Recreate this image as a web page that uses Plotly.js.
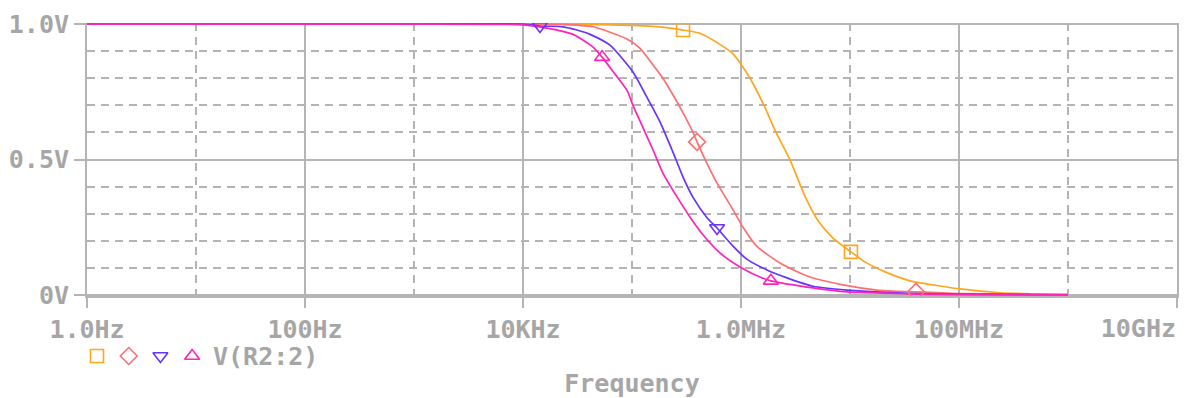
<!DOCTYPE html>
<html>
<head>
<meta charset="utf-8">
<script src="https://cdn.plot.ly/plotly-3.0.1.min.js"></script>
<style>html,body{margin:0;padding:0;background:#fff;}#chart{width:1184px;height:398px;}</style>
</head>
<body>
<div id="chart"></div>
<script>
// Frequencies (Hz) and voltages
const orangeF = [1, 1e3, 1e4, 5e4, 1e5, 2e5, 2.94e5, 4.2e5, 6.4e5, 8.45e5, 1e6, 1.21e6, 1.59e6, 2.09e6, 2.82e6, 3.86e6, 5.08e6, 6.98e6, 1.02e7, 1.37e7, 2.1e7, 3.55e7, 6.7e7, 1.02e8, 2.38e8, 4.48e8];
const orangeV = [1.0, 1.0, 1.0, 0.998, 0.995, 0.988, 0.978, 0.966, 0.925, 0.89, 0.852, 0.80, 0.708, 0.601, 0.498, 0.365, 0.275, 0.21, 0.159, 0.122, 0.085, 0.052, 0.033, 0.022, 0.008, 0.004];

const salmonF = [1, 1e3, 1e4, 2.2e4, 4.39e4, 9.0e4, 1.18e5, 1.56e5, 1.92e5, 2.38e5, 2.94e5, 3.63e5, 3.95e5, 4.88e5, 6.03e5, 8.45e5, 1.04e6, 1.40e6, 2.28e6, 3.48e6, 4.3e6, 8.6e6, 1.77e7, 4.03e7, 1e8, 1e9];
const salmonV = [1.0, 1.0, 1.0, 0.999, 0.99, 0.945, 0.911, 0.849, 0.80, 0.738, 0.672, 0.60, 0.565, 0.485, 0.413, 0.314, 0.251, 0.179, 0.118, 0.081, 0.066, 0.037, 0.018, 0.011, 0.005, 0.001];

const blueF = [1, 1e3, 1e4, 1.43e4, 2.33e4, 3.13e4, 4.12e4, 6.28e4, 1.02e5, 1.37e5, 1.81e5, 2.33e5, 2.59e5, 2.94e5, 3.63e5, 4.88e5, 6.03e5, 8.45e5, 1.13e6, 1.73e6, 2.64e6, 4.58e6, 9.4e6, 3.06e7, 1e8, 1e9];
const blueV = [1.0, 1.0, 1.0, 0.993, 0.99, 0.978, 0.962, 0.922, 0.823, 0.73, 0.638, 0.535, 0.49, 0.435, 0.36, 0.285, 0.247, 0.18, 0.132, 0.092, 0.063, 0.032, 0.018, 0.007, 0.003, 0.001];

const pinkF = [1, 1e3, 1e4, 1.66e4, 2.88e4, 4.39e4, 5.31e4, 6.7e4, 9.0e4, 1.02e5, 1.26e5, 1.56e5, 1.92e5, 2.59e5, 3.40e5, 4.48e5, 6.41e5, 9.8e5, 1.49e6, 1.88e6, 4.58e6, 9.4e6, 3.33e7, 1e8, 1e9];
const pinkV = [1.0, 1.0, 0.997, 0.985, 0.962, 0.915, 0.878, 0.825, 0.755, 0.70, 0.618, 0.535, 0.45, 0.362, 0.288, 0.222, 0.155, 0.103, 0.066, 0.052, 0.026, 0.011, 0.004, 0.001, 0.0];

// Marker positions (frequency, voltage)
const orangeMarkF = [2.94e5, 1.02e7];
const orangeMarkV = [0.978, 0.159];
const salmonMarkF = [3.95e5, 4.03e7];
const salmonMarkV = [0.565, 0.011];
const blueMarkF = [1.43e4, 6.03e5];
const blueMarkV = [0.993, 0.247];
const pinkMarkF = [5.31e4, 1.88e6];
const pinkMarkV = [0.878, 0.052];

const xTickVals = [1, 100, 1e4, 1e6, 1e8, 1e10];
const xTickText = ['1.0Hz', '100Hz', '10KHz', '1.0MHz', '100MHz', ''];
const xEndTickVals = [1e10];
const xEndTickText = ['10GHz'];
const xMinorVals = [10, 1e3, 1e5, 1e7, 1e9];
const yTickVals = [0, 0.5, 1.0];
const yTickText = ['0V', '0.5V', '1.0V'];
const yMinorVals = [0.1, 0.2, 0.3, 0.4, 0.6, 0.7, 0.8, 0.9];
const legendSlots = [0, 1, 2, 3];
const legendText = 'V(R2:2)';

const colors = {orange: '#ffa61e', salmon: '#ff6f6f', blue: '#6633ff', pink: '#ff22bb'};
const gridC = '#b4b4b4';
const textC = '#a6a6a6';
const font = {family: 'DejaVu Sans Mono', size: 25, color: textC, weight: 'bold'};

function lineTrace(x, y, c) {
  return {x: x, y: y, type: 'scatter', mode: 'lines', line: {color: c, width: 1.7, shape: 'spline', smoothing: 0.6}, showlegend: false, hoverinfo: 'skip'};
}
function markTrace(x, y, c, sym) {
  return {x: x, y: y, type: 'scatter', mode: 'markers', showlegend: false,
    marker: {symbol: sym, size: 13, color: c, line: {color: c, width: 1.6}}, hoverinfo: 'skip'};
}

const legendColors = [colors.orange, colors.salmon, colors.blue, colors.pink];
const legendSymbols = ['square-open', 'diamond-open', 'triangle-down-open', 'triangle-up-open'];

const data = [
  lineTrace(orangeF, orangeV, colors.orange),
  lineTrace(salmonF, salmonV, colors.salmon),
  lineTrace(blueF, blueV, colors.blue),
  lineTrace(pinkF, pinkV, colors.pink),
  markTrace(orangeMarkF, orangeMarkV, colors.orange, 'square-open'),
  markTrace(salmonMarkF, salmonMarkV, colors.salmon, 'diamond-open'),
  markTrace(blueMarkF, blueMarkV, colors.blue, 'triangle-down-open'),
  markTrace(pinkMarkF, pinkMarkV, colors.pink, 'triangle-up-open'),
  // empty trace so the end-label axis is drawn
  {x: [], y: [], type: 'scatter', mode: 'lines', xaxis: 'x2', yaxis: 'y', showlegend: false, hoverinfo: 'skip'},
  // legend row of symbols
  {x: legendSlots, y: legendSlots.map(() => 0), type: 'scatter', mode: 'markers', xaxis: 'x3', yaxis: 'y3',
    showlegend: false, hoverinfo: 'skip', cliponaxis: false,
    marker: {symbol: legendSymbols, size: 13, color: legendColors, line: {color: legendColors, width: 1.6}}}
];

const plotH = 398 - 23;
const layout = {
  width: 1184, height: 398,
  margin: {l: 87, r: 7, t: 23, b: 0},
  paper_bgcolor: '#fff', plot_bgcolor: '#fff',
  font: font,
  showlegend: false,
  xaxis: {
    type: 'log', range: [0, 10], tickmode: 'array', tickvals: xTickVals, ticktext: xTickText,
    anchor: 'y',
    showgrid: true, gridcolor: gridC, gridwidth: 2,
    showline: true, linecolor: gridC, linewidth: 2,
    ticks: 'outside', ticklen: 10, tickwidth: 2, tickcolor: gridC,
    tickfont: font, zeroline: false,
    minor: {tickmode: 'array', tickvals: xMinorVals, showgrid: true, gridcolor: gridC, gridwidth: 2, griddash: '8px,6px', ticks: ''},
    title: {text: 'Frequency', font: font, standoff: 45}
  },
  xaxis2: {
    type: 'log', range: [0, 10], overlaying: 'x', anchor: 'y', side: 'bottom',
    tickmode: 'array', tickvals: xEndTickVals, ticktext: xEndTickText,
    ticklabelposition: 'outside left', ticklabelstandoff: 10, ticks: 'outside', ticklen: 10, tickwidth: 2, tickcolor: 'rgba(0,0,0,0)',
    showgrid: false, showline: false, zeroline: false, tickfont: font
  },
  yaxis: {
    domain: [102 / plotH, 1],
    range: [-0.004, 1.004], tickmode: 'array', tickvals: yTickVals, ticktext: yTickText,
    showgrid: true, gridcolor: gridC, gridwidth: 2,
    showline: true, linecolor: gridC, linewidth: 2, mirror: true,
    ticks: 'outside', ticklen: 11, tickwidth: 2, tickcolor: gridC,
    tickfont: font, zeroline: false,
    minor: {tickmode: 'array', tickvals: yMinorVals, showgrid: true, gridcolor: gridC, gridwidth: 2, griddash: '8px,6px', ticks: ''}
  },
  xaxis3: {domain: [0, 1], anchor: 'y3', range: [-10 / 31.7, -10 / 31.7 + 1090 / 31.7], visible: false, fixedrange: true},
  yaxis3: {domain: [(398 - 356 - 12) / plotH, (398 - 356 + 12) / plotH], anchor: 'x3', range: [-1, 1], visible: false, fixedrange: true},
  annotations: [{
    text: legendText, xref: 'paper', yref: 'paper', x: (211 - 87) / 1090, y: (398 - 356) / plotH,
    xanchor: 'left', yanchor: 'middle', showarrow: false, font: font
  }]
};

Plotly.newPlot('chart', data, layout, {staticPlot: true, displayModeBar: false});
</script>
</body>
</html>
